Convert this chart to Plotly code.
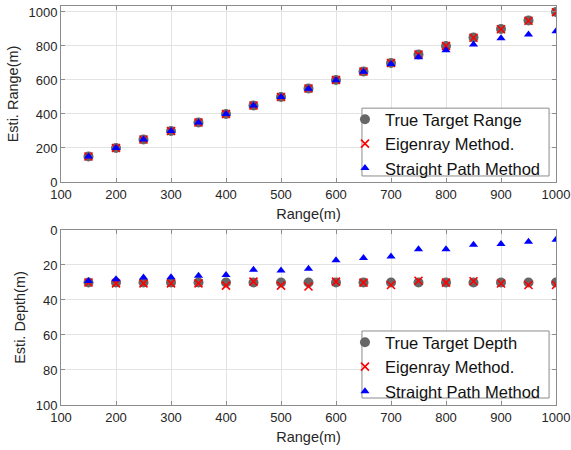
import plotly.graph_objects as go
from plotly.subplots import make_subplots

# ---------------- data ----------------
ranges = [150, 200, 250, 300, 350, 400, 450, 500, 550, 600,
          650, 700, 750, 800, 850, 900, 950, 1000]
true_range = [150, 200, 250, 300, 350, 400, 450, 500, 550, 600,
              650, 700, 750, 800, 850, 900, 950, 1000]
eig_range = [150, 200, 250, 300, 350, 400, 450, 500, 550, 600,
             650, 700, 750, 800, 848, 898, 948, 998]
sp_range = [150, 200, 250, 300, 350, 400, 450, 500, 548, 598,
            648, 694, 734, 774, 808, 845, 867, 887]

true_depth = [30] * 18
eig_depth = [30, 30.5, 30.5, 30.5, 30.5, 31.8, 29.5, 31.8, 32.3, 29.5,
             30.1, 31.4, 29.0, 30.1, 29.3, 30.6, 31.4, 31.4]
sp_depth = [29.1, 28.2, 27.2, 27.0, 26.1, 25.7, 22.7, 23.2, 22.1, 17.3,
            16.0, 15.2, 11.0, 11.0, 8.4, 8.0, 6.7, 5.5]

x_ticks = [100, 200, 300, 400, 500, 600, 700, 800, 900, 1000]
range_ticks = [0, 200, 400, 600, 800, 1000]
depth_ticks = [0, 20, 40, 60, 80, 100]

# ---------------- figure ----------------
FONT = "Liberation Sans, Arial, Helvetica, sans-serif"
GRAY = "#666666"
LINE = "#8c8c8c"

fig = make_subplots(rows=2, cols=1, vertical_spacing=0.12)

def add_series(row, xs, ys_true, ys_eig, ys_sp, true_name, legend):
    fig.add_trace(go.Scatter(x=xs, y=ys_true, mode="markers", name=true_name,
                             marker=dict(symbol="circle", size=10, color=GRAY),
                             legend=legend), row=row, col=1)
    fig.add_trace(go.Scatter(x=xs, y=ys_eig, mode="markers", name="Eigenray Method.",
                             marker=dict(symbol="x-thin", size=8, color="red",
                                         line=dict(color="red", width=1.6)),
                             legend=legend), row=row, col=1)
    fig.add_trace(go.Scatter(x=xs, y=ys_sp, mode="markers", name="Straight Path Method",
                             marker=dict(symbol="triangle-up", size=8, color="blue"),
                             legend=legend), row=row, col=1)

add_series(1, ranges, true_range, eig_range, sp_range, "True Target Range", "legend")
add_series(2, ranges, true_depth, eig_depth, sp_depth, "True Target Depth", "legend2")

axis_common = dict(
    showline=True, mirror="ticks", linecolor=LINE, linewidth=1,
    ticks="inside", ticklen=4, tickcolor=LINE, automargin=False,
    showgrid=True, gridcolor="#e3e3e3", gridwidth=1, zeroline=False,
    tickfont=dict(family=FONT, size=13, color="#262626"),
)

for r in (1, 2):
    fig.update_xaxes(range=[100, 1000], tickvals=x_ticks, ticklabeloverflow="allow",
                     title=dict(text="Range(m)", standoff=8,
                                font=dict(family=FONT, size=14.5, color="#262626")),
                     row=r, col=1, **axis_common)

fig.update_yaxes(range=[0, 1035], tickvals=range_ticks,
                 title=dict(text="Esti. Range(m)", standoff=6,
                            font=dict(family=FONT, size=14.5, color="#262626")),
                 row=1, col=1, **axis_common)
fig.update_yaxes(range=[100, 0], tickvals=depth_ticks,
                 title=dict(text="Esti. Depth(m)", standoff=6,
                            font=dict(family=FONT, size=14.5, color="#262626")),
                 row=2, col=1, **axis_common)

# legend frames (white boxes with border, drawn above the data)
for (y0, y1) in [(0.574, 0.744), (0.0175, 0.1855)]:
    fig.add_shape(type="rect", xref="paper", yref="paper",
                  x0=0.608, x1=0.986, y0=y0, y1=y1,
                  fillcolor="white", line=dict(color=LINE, width=1), layer="above")

leg_common = dict(xanchor="left", yanchor="top", bgcolor="rgba(0,0,0,0)",
                  borderwidth=0, font=dict(family=FONT, size=16.5, color="#111111"),
                  tracegroupgap=0, itemwidth=30)

fig.update_layout(
    width=571, height=450,
    margin=dict(l=61, r=15, t=6, b=45, autoexpand=False),
    paper_bgcolor="white", plot_bgcolor="white",
    xaxis=dict(domain=[0, 1]), xaxis2=dict(domain=[0, 1]),
    yaxis=dict(domain=[0.559, 1.0]),
    yaxis2=dict(domain=[0.0, 0.4386]),
    legend=dict(x=0.5737, y=0.7594, **leg_common),
    legend2=dict(x=0.5737, y=0.2005, **leg_common),
    showlegend=True,
)

fig.write_html("out.html")
